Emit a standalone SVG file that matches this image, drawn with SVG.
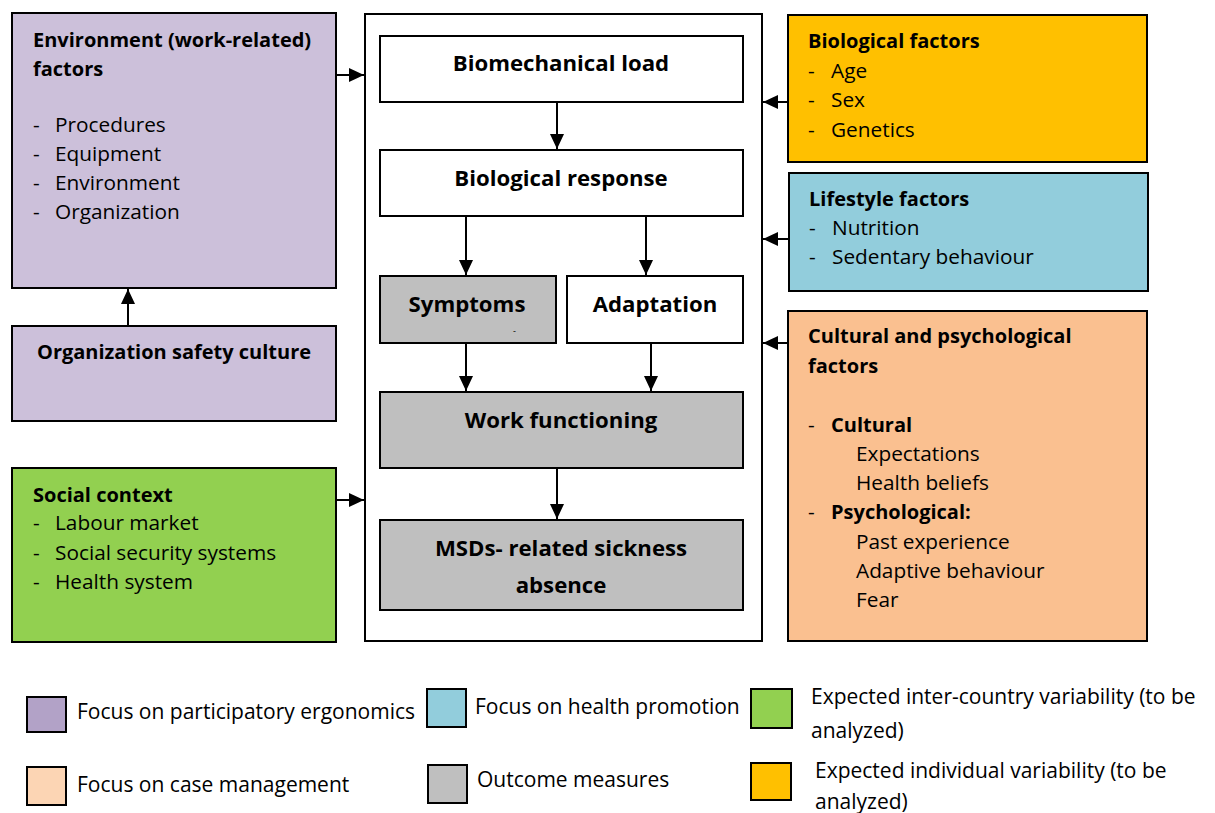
<svg xmlns="http://www.w3.org/2000/svg" width="1215" height="813" viewBox="0 0 1215 813">
  <style>
    text { font-family: "Open Sans", Lato, "Liberation Sans", sans-serif; fill: #000; }
    .t { font-size: 20.8px; }
    .b { font-size: 20px; font-weight: bold; }
    .hb { font-size: 22.2px; font-weight: bold; text-anchor: middle; }
    .lg { font-size: 21px; }
    .box { stroke: #000; stroke-width: 2; }
    .purple { fill: #ccc0da; }
    .white { fill: #fff; }
    .gray { fill: #bfbfbf; }
    .conn { stroke: #000; stroke-width: 2; fill: none; marker-end: url(#ah); }
  </style>
  <defs>
    <marker id="ah" viewBox="0 0 15 14" refX="15" refY="7" markerWidth="15" markerHeight="14" markerUnits="userSpaceOnUse" orient="auto">
      <path d="M0,0 L15,7 L0,14 Z" fill="#000"/>
    </marker>
  </defs>
  <rect width="1215" height="813" fill="#fff"/>

  <!-- central frame -->
  <g id="frame">
    <rect class="box white" x="365" y="14" width="397" height="627"/>
  </g>

  <!-- left column -->
  <g id="env-factors">
    <rect class="box purple" x="12" y="13" width="324" height="275"/>
    <text class="b" x="33" y="47">Environment (work-related)</text>
    <text class="b" x="33" y="76">factors</text>
    <text class="t" x="33" y="132">-</text><text class="t" x="55" y="132">Procedures</text>
    <text class="t" x="33" y="161">-</text><text class="t" x="55" y="161">Equipment</text>
    <text class="t" x="33" y="190">-</text><text class="t" x="55" y="190">Environment</text>
    <text class="t" x="33" y="219">-</text><text class="t" x="55" y="219">Organization</text>
  </g>
  <g id="safety-culture">
    <rect class="box purple" x="12" y="326" width="324" height="95"/>
    <text class="b" x="174" y="359" text-anchor="middle">Organization safety culture</text>
  </g>
  <g id="social-context">
    <rect class="box" fill="#92d050" x="12" y="468" width="324" height="174"/>
    <text class="b" x="33" y="502">Social context</text>
    <text class="t" x="33" y="530">-</text><text class="t" x="55" y="530">Labour market</text>
    <text class="t" x="33" y="560">-</text><text class="t" x="55" y="560">Social security systems</text>
    <text class="t" x="33" y="589">-</text><text class="t" x="55" y="589">Health system</text>
  </g>

  <!-- central chain -->
  <g id="biomech-load">
    <rect class="box white" x="380" y="36" width="363" height="66"/>
    <text class="hb" x="561" y="71">Biomechanical load</text>
  </g>
  <g id="bio-response">
    <rect class="box white" x="380" y="150" width="363" height="66"/>
    <text class="hb" x="561" y="186">Biological response</text>
  </g>
  <g id="symptoms">
    <rect class="box gray" x="380" y="276" width="176" height="67"/>
    <text class="hb" x="467" y="312">Symptoms</text>
    <text x="513" y="334" font-size="9">-</text>
  </g>
  <g id="adaptation">
    <rect class="box white" x="567" y="276" width="176" height="67"/>
    <text class="hb" x="655" y="312">Adaptation</text>
  </g>
  <g id="work-functioning">
    <rect class="box gray" x="380" y="392" width="363" height="76"/>
    <text class="hb" x="561" y="428">Work functioning</text>
  </g>
  <g id="sickness-absence">
    <rect class="box gray" x="380" y="520" width="363" height="90"/>
    <text class="hb" x="561" y="556">MSDs- related sickness</text>
    <text class="hb" x="561" y="593">absence</text>
  </g>

  <!-- right column -->
  <g id="biological-factors">
    <rect class="box" fill="#ffc000" x="788" y="15" width="359" height="147"/>
    <text class="b" x="808" y="48">Biological factors</text>
    <text class="t" x="808" y="78">-</text><text class="t" x="831" y="78">Age</text>
    <text class="t" x="808" y="107">-</text><text class="t" x="831" y="107">Sex</text>
    <text class="t" x="808" y="137">-</text><text class="t" x="831" y="137">Genetics</text>
  </g>
  <g id="lifestyle-factors">
    <rect class="box" fill="#92cddc" x="789" y="173" width="359" height="118"/>
    <text class="b" x="809" y="206">Lifestyle factors</text>
    <text class="t" x="809" y="235">-</text><text class="t" x="832" y="235">Nutrition</text>
    <text class="t" x="809" y="264">-</text><text class="t" x="832" y="264">Sedentary behaviour</text>
  </g>
  <g id="cultural-factors">
    <rect class="box" fill="#fac090" x="788" y="311" width="359" height="330"/>
    <text class="b" x="808" y="343">Cultural and psychological</text>
    <text class="b" x="808" y="373">factors</text>
    <text class="t" x="808" y="432">-</text><text class="b" x="831" y="432">Cultural</text>
    <text class="t" x="856" y="461">Expectations</text>
    <text class="t" x="856" y="490">Health beliefs</text>
    <text class="t" x="808" y="519">-</text><text class="b" x="831" y="519">Psychological:</text>
    <text class="t" x="856" y="549">Past experience</text>
    <text class="t" x="856" y="578">Adaptive behaviour</text>
    <text class="t" x="856" y="607">Fear</text>
  </g>

  <!-- connectors -->
  <g id="connectors">
    <line class="conn" x1="336" y1="75" x2="364" y2="75"/>
    <line class="conn" x1="336" y1="500" x2="364" y2="500"/>
    <line class="conn" x1="128" y1="326" x2="128" y2="289"/>
    <line class="conn" x1="788" y1="102" x2="763" y2="102"/>
    <line class="conn" x1="789" y1="239" x2="763" y2="239"/>
    <line class="conn" x1="788" y1="343" x2="763" y2="343"/>
    <line class="conn" x1="557" y1="102" x2="557" y2="149"/>
    <line class="conn" x1="466" y1="216" x2="466" y2="275"/>
    <line class="conn" x1="646" y1="216" x2="646" y2="275"/>
    <line class="conn" x1="466" y1="343" x2="466" y2="391"/>
    <line class="conn" x1="651" y1="343" x2="651" y2="391"/>
    <line class="conn" x1="557" y1="468" x2="557" y2="519"/>
  </g>

  <!-- legend -->
  <g id="legend">
    <rect class="box" fill="#b2a2c7" x="27" y="697" width="39" height="35"/>
    <text class="lg" x="77" y="719">Focus on participatory ergonomics</text>
    <rect class="box" fill="#92cddc" x="427" y="689" width="39" height="38"/>
    <text class="lg" x="475" y="714">Focus on health promotion</text>
    <rect class="box" fill="#92d050" x="751" y="689" width="41" height="39"/>
    <text class="lg" x="811" y="704">Expected inter-country variability (to be</text>
    <text class="lg" x="811" y="738">analyzed)</text>
    <rect class="box" fill="#fcd5b4" x="27" y="767" width="39" height="38"/>
    <text class="lg" x="77" y="792">Focus on case management</text>
    <rect class="box" fill="#bfbfbf" x="428" y="765" width="39" height="38"/>
    <text class="lg" x="477" y="787">Outcome measures</text>
    <rect class="box" fill="#ffc000" x="751" y="763" width="40" height="37"/>
    <text class="lg" x="815" y="778">Expected individual variability (to be</text>
    <text class="lg" x="815" y="809">analyzed)</text>
  </g>
</svg>
